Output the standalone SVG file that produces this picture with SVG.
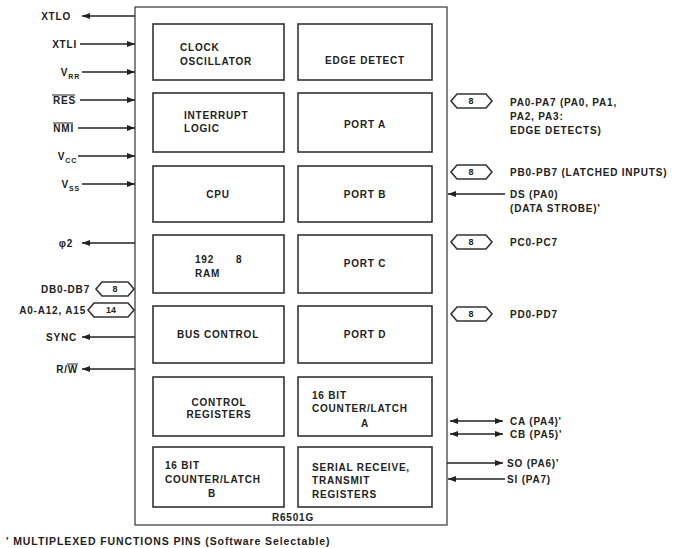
<svg xmlns="http://www.w3.org/2000/svg" width="679" height="548" viewBox="0 0 679 548">
<style>
text{font-family:"Liberation Sans",Arial,sans-serif;font-weight:bold;font-size:10px;fill:#222;letter-spacing:0.8px}
.blk{fill:#fff;stroke:#333;stroke-width:1.6}
.outer{fill:#fff;stroke:#444;stroke-width:1.3}
.ln{stroke:#222;stroke-width:1.3;fill:none}
.bus{fill:#fff;stroke:#333;stroke-width:1.6}
.num{font-size:9px;letter-spacing:0}
.sub{font-size:7px}
.m{text-anchor:middle}
.e{text-anchor:end}
.foot{font-size:10.5px;letter-spacing:0.9px}
</style>
<defs>
<marker id="ah" markerUnits="userSpaceOnUse" markerWidth="8" markerHeight="6" refX="8" refY="3" orient="auto-start-reverse"><path d="M0,0 L8,3 L0,6 z" fill="#222"/></marker>
</defs>
<rect id="chip" class="outer" x="135" y="7" width="312" height="518"/>
<g id="clock"><rect class="blk" x="153" y="24" width="131" height="56"/><text x="180" y="51">CLOCK</text><text x="180" y="65">OSCILLATOR</text></g>
<g id="edge"><rect class="blk" x="298" y="24" width="134" height="56"/><text class="m" x="365" y="64">EDGE DETECT</text></g>
<g id="interrupt"><rect class="blk" x="153" y="93" width="131" height="59"/><text x="184" y="119">INTERRUPT</text><text x="184" y="132">LOGIC</text></g>
<g id="porta"><rect class="blk" x="298" y="93" width="134" height="59"/><text class="m" x="365" y="128">PORT A</text></g>
<g id="cpu"><rect class="blk" x="153" y="166" width="131" height="56"/><text class="m" x="218" y="198">CPU</text></g>
<g id="portb"><rect class="blk" x="298" y="166" width="134" height="56"/><text class="m" x="365" y="198">PORT B</text></g>
<g id="ram"><rect class="blk" x="153" y="235" width="131" height="58"/><text x="195" y="263">192</text><text x="236" y="263">8</text><text x="195" y="277">RAM</text></g>
<g id="portc"><rect class="blk" x="298" y="235" width="134" height="58"/><text class="m" x="365" y="267">PORT C</text></g>
<g id="buscontrol"><rect class="blk" x="153" y="306" width="131" height="57"/><text class="m" x="218" y="338">BUS CONTROL</text></g>
<g id="portd"><rect class="blk" x="298" y="306" width="134" height="57"/><text class="m" x="365" y="338">PORT D</text></g>
<g id="ctrlreg"><rect class="blk" x="153" y="377" width="131" height="59"/><text class="m" x="219" y="406">CONTROL</text><text class="m" x="219" y="418">REGISTERS</text></g>
<g id="cla"><rect class="blk" x="298" y="377" width="134" height="59"/><text x="312" y="399">16 BIT</text><text x="312" y="412">COUNTER/LATCH</text><text class="m" x="365" y="427">A</text></g>
<g id="clb"><rect class="blk" x="153" y="447" width="131" height="60"/><text x="165" y="469">16 BIT</text><text x="165" y="483">COUNTER/LATCH</text><text class="m" x="212" y="497">B</text></g>
<g id="serial"><rect class="blk" x="298" y="447" width="134" height="60"/><text x="312" y="471">SERIAL RECEIVE,</text><text x="312" y="484">TRANSMIT</text><text x="312" y="498">REGISTERS</text></g>
<text id="partno" class="m" x="293" y="521">R6501G</text>
<g id="connectors">
<line class="ln" x1="135" y1="16" x2="82" y2="16" marker-end="url(#ah)"/>
<line class="ln" x1="80" y1="44" x2="135" y2="44" marker-end="url(#ah)"/>
<line class="ln" x1="82" y1="72" x2="135" y2="72" marker-end="url(#ah)"/>
<line class="ln" x1="80" y1="100" x2="135" y2="100" marker-end="url(#ah)"/>
<line class="ln" x1="78" y1="128" x2="135" y2="128" marker-end="url(#ah)"/>
<line class="ln" x1="78" y1="156" x2="135" y2="156" marker-end="url(#ah)"/>
<line class="ln" x1="82" y1="184" x2="135" y2="184" marker-end="url(#ah)"/>
<line class="ln" x1="135" y1="243" x2="82" y2="243" marker-end="url(#ah)"/>
<line class="ln" x1="135" y1="337" x2="82" y2="337" marker-end="url(#ah)"/>
<line class="ln" x1="135" y1="369" x2="82" y2="369" marker-end="url(#ah)"/>
<line class="ln" x1="505" y1="194" x2="448" y2="194" marker-end="url(#ah)"/>
<line class="ln" x1="450" y1="421" x2="503" y2="421" marker-start="url(#ah)" marker-end="url(#ah)"/>
<line class="ln" x1="450" y1="434" x2="503" y2="434" marker-start="url(#ah)" marker-end="url(#ah)"/>
<line class="ln" x1="447" y1="463" x2="503" y2="463" marker-end="url(#ah)"/>
<line class="ln" x1="505" y1="479" x2="448" y2="479" marker-end="url(#ah)"/>
<g id="bus-db"><polygon class="bus" points="96,289 102,282 128,282 134,289 128,296 102,296"/><text class="num m" x="115" y="292">8</text></g>
<g id="bus-a"><polygon class="bus" points="88,310 94,303 128,303 134,310 128,317 94,317"/><text class="num m" x="111" y="313">14</text></g>
<g id="bus-pa"><polygon class="bus" points="451,101 457,94 486,94 492,101 486,108 457,108"/><text class="num m" x="471" y="104">8</text></g>
<g id="bus-pb"><polygon class="bus" points="451,172 457,165 486,165 492,172 486,179 457,179"/><text class="num m" x="471" y="175">8</text></g>
<g id="bus-pc"><polygon class="bus" points="451,242 457,235 486,235 492,242 486,249 457,249"/><text class="num m" x="471" y="245">8</text></g>
<g id="bus-pd"><polygon class="bus" points="451,314 457,307 486,307 492,314 486,321 457,321"/><text class="num m" x="471" y="317">8</text></g>
</g>
<g id="left-labels">
<text class="e" x="71" y="20">XTLO</text>
<text class="e" x="77" y="48">XTLI</text>
<text class="e" x="80" y="76">V<tspan class="sub" dy="3">RR</tspan></text>
<text class="e" x="76" y="104">RES</text>
<line x1="52" y1="95" x2="75" y2="95" stroke="#222" stroke-width="1"/>
<text class="e" x="74" y="132">NMI</text>
<line x1="53" y1="123" x2="73" y2="123" stroke="#222" stroke-width="1"/>
<text class="e" x="77" y="160">V<tspan class="sub" dy="3">CC</tspan></text>
<text class="e" x="80" y="188">V<tspan class="sub" dy="3">SS</tspan></text>
<text class="e" x="73" y="247">φ2</text>
<text class="e" x="90" y="293">DB0-DB7</text>
<text class="e" x="86" y="314">A0-A12, A15</text>
<text class="e" x="77" y="341">SYNC</text>
<text class="e" x="78" y="373">R/W</text>
<line x1="67" y1="364" x2="78" y2="364" stroke="#222" stroke-width="1"/>
</g>
<g id="right-labels">
<text x="510" y="106">PA0-PA7 (PA0, PA1,</text>
<text x="510" y="120">PA2, PA3:</text>
<text x="510" y="134">EDGE DETECTS)</text>
<text x="510" y="176">PB0-PB7 (LATCHED INPUTS)</text>
<text x="510" y="198">DS (PA0)</text>
<text x="510" y="212">(DATA STROBE)'</text>
<text x="510" y="246">PC0-PC7</text>
<text x="510" y="318">PD0-PD7</text>
<text x="510" y="425">CA (PA4)'</text>
<text x="510" y="438">CB (PA5)'</text>
<text x="507" y="467">SO (PA6)'</text>
<text x="507" y="483">SI (PA7)</text>
</g>
<text id="footnote" class="foot" x="6" y="545">' MULTIPLEXED FUNCTIONS PINS (Software Selectable)</text>
</svg>
